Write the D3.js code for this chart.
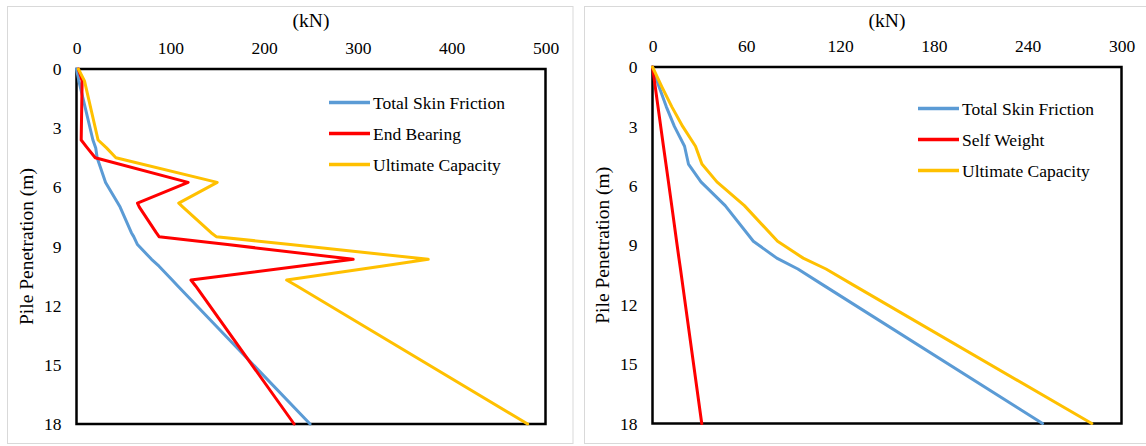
<!DOCTYPE html>
<html>
<head>
<meta charset="utf-8">
<script src="https://cdn.jsdelivr.net/npm/d3@7"></script>
<style>
  html, body { margin: 0; padding: 0; background: #fff; }
  svg { display: block; }
</style>
</head>
<body>
<svg id="chart" width="1146" height="446"></svg>
<script>
// ---------- Data ----------
// Left chart
const leftDepth    = [0, 0.6, 3.6, 4.0, 4.5, 5.75, 6.8, 7.0, 8.3, 8.5, 8.9, 9.65, 10.0, 10.7, 11.0, 18];
const leftSkin     = [0, 2.5, 17.5, 20.5, 22, 31, 44, 46.5, 58.5, 61, 65, 80, 88, 102, 108, 249];
const leftEnd      = [2, 6, 5, 11.5, 20, 119, 65, 67, 85, 88, 161, 295, 237, 122, 127, 232];
const leftUlt      = [2, 8.5, 23, 32, 42, 150, 109, 113.5, 143.5, 149, 228, 375, 325, 224, 235, 481];
const leftXTicks   = [0, 100, 200, 300, 400, 500];
const leftNames    = ["Total Skin Friction", "End Bearing", "Ultimate Capacity"];

// Right chart
const rightDepth   = [0, 1, 2, 3, 4, 4.9, 5.8, 7, 8.8, 9.65, 10.2, 11, 18];
const rightSkin    = [0, 4.2, 8.8, 14, 20.5, 23, 31, 46.5, 64.5, 79.5, 93, 109, 249.5];
const rightSelf    = [0, 1.75, 3.5, 5.25, 7, 8.6, 10.2, 12.3, 15.4, 16.9, 17.9, 19.3, 31.5];
const rightUlt     = [0, 6, 12.3, 19.3, 27.5, 31.6, 41.2, 58.8, 80, 96.4, 111, 128.3, 281];
const rightXTicks  = [0, 60, 120, 180, 240, 300];
const rightNames   = ["Total Skin Friction", "Self Weight", "Ultimate Capacity"];

const yTicks       = [0, 3, 6, 9, 12, 15, 18];
const seriesColors = ["#5B9BD5", "#FF0000", "#FFC000"];
const xTitle = "(kN)";
const yTitle = "Pile Penetration (m)";
const FONT = '"Liberation Serif"';

// ---------- Drawing ----------
const svg = d3.select("#chart");

function panel(cfg) {
  const g = svg.append("g");
  // outer panel border
  g.append("rect")
    .attr("x", cfg.box[0]).attr("y", cfg.box[1])
    .attr("width", cfg.box[2]).attr("height", cfg.box[3])
    .attr("fill", "#fff").attr("stroke", "#d9d9d9").attr("stroke-width", 1);

  const x = d3.scaleLinear().domain([cfg.xTicks[0], cfg.xTicks[cfg.xTicks.length - 1]])
    .range([cfg.left, cfg.right]);
  const y = d3.scaleLinear().domain([0, 18]).range([cfg.top, cfg.bottom]);

  // axes (labels only)
  const ax = g.append("g").attr("transform", `translate(0,${cfg.top})`)
    .call(d3.axisTop(x).tickValues(cfg.xTicks).tickSize(0).tickPadding(15));
  ax.select(".domain").remove();
  ax.selectAll("text").style("font-family", FONT).style("font-size", "17.5px").attr("fill", "#000");

  const ay = g.append("g").attr("transform", `translate(${cfg.left},0)`)
    .call(d3.axisLeft(y).tickValues(yTicks).tickSize(0).tickPadding(15));
  ay.select(".domain").remove();
  ay.selectAll("text").style("font-family", FONT).style("font-size", "17.5px").attr("fill", "#000");

  // titles
  g.append("text")
    .attr("x", (cfg.left + cfg.right) / 2).attr("y", 27)
    .attr("text-anchor", "middle")
    .style("font-family", FONT).style("font-size", "19.5px").attr("fill", "#000")
    .text(xTitle);
  g.append("text")
    .attr("transform", `translate(${cfg.left - 44},${(cfg.top + cfg.bottom) / 2}) rotate(-90)`)
    .attr("text-anchor", "middle")
    .style("font-family", FONT).style("font-size", "19.5px").attr("fill", "#000")
    .text(yTitle);

  // plot frame
  g.append("rect")
    .attr("x", cfg.left).attr("y", cfg.top)
    .attr("width", cfg.right - cfg.left).attr("height", cfg.bottom - cfg.top)
    .attr("fill", "none").attr("stroke", "#000").attr("stroke-width", 2.5);

  // series
  const line = d3.line().x(d => x(d[0])).y(d => y(d[1])).curve(d3.curveLinear);
  cfg.series.forEach((vals, i) => {
    const pts = vals.map((v, k) => [v, cfg.depth[k]]);
    g.append("path").datum(pts)
      .attr("d", line)
      .attr("fill", "none")
      .attr("stroke", seriesColors[i])
      .attr("stroke-width", 3)
      .attr("stroke-linejoin", "round")
      .attr("stroke-linecap", "round");
  });

  // legend
  cfg.names.forEach((name, i) => {
    const ly = cfg.legend[1] + i * 31;
    g.append("line")
      .attr("x1", cfg.legend[0]).attr("x2", cfg.legend[0] + 41)
      .attr("y1", ly).attr("y2", ly)
      .attr("stroke", seriesColors[i]).attr("stroke-width", 3.5);
    g.append("text")
      .attr("x", cfg.legend[0] + 44).attr("y", ly).attr("dy", "0.35em")
      .style("font-family", FONT).style("font-size", "17.5px").attr("fill", "#000")
      .text(name);
  });
}

panel({
  box: [7.5, 6.5, 565.5, 437],
  left: 76.5, right: 545.5, top: 69, bottom: 424,
  xTicks: leftXTicks, depth: leftDepth,
  series: [leftSkin, leftEnd, leftUlt], names: leftNames,
  legend: [329, 102.5]
});

panel({
  box: [584.5, 6.5, 570, 437],
  left: 652.5, right: 1121.5, top: 67, bottom: 423.5,
  xTicks: rightXTicks, depth: rightDepth,
  series: [rightSkin, rightSelf, rightUlt], names: rightNames,
  legend: [918, 108.5]
});
</script>
</body>
</html>
